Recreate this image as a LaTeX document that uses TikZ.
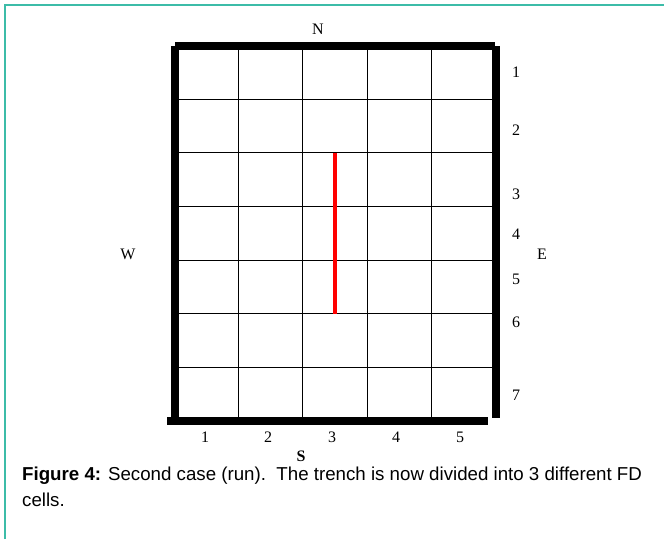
\documentclass[tikz,border=0pt]{standalone}
\usepackage{fontspec}
\setmainfont{Liberation Serif}
\newfontfamily\capfont{Liberation Sans}
\usetikzlibrary{positioning}
\definecolor{frameTeal}{HTML}{3CBCA8}
\definecolor{trenchRed}{HTML}{FF0000}
\tikzset{
  wall/.style={line width=8pt, line cap=butt},
  cellline/.style={line width=0.9pt},
  trench/.style={draw=trenchRed, line width=4pt},
  lbl/.style={font=\fontsize{16}{18}\selectfont, inner sep=0pt},
  figcap/.style={font=\capfont\fontsize{18.7}{26}\selectfont, align=left, anchor=base west, inner sep=0pt},
}
\begin{document}
\begin{tikzpicture}[x=1pt,y=-1pt]
\useasboundingbox (0,0) rectangle (664,539);
\draw[frameTeal, line width=1.5pt] (5,539) -- (5,5) -- (664,5);
\foreach \i in {1,...,4} \draw[cellline] (174.5+64.2*\i,45.5) -- (174.5+64.2*\i,421);
\foreach \j in {1,...,6} \draw[cellline] (174.5,45.5+53.64*\j) -- (495.5,45.5+53.64*\j);
\draw[wall] (175,45.5) -- (495,45.5);
\draw[wall] (174.5,46) -- (174.5,425);
\draw[wall] (495.5,46) -- (495.5,418);
\draw[wall] (167,421) -- (488,421);
\draw[trench] (335,152.8) -- (335,313.7);
\node[lbl] (north) at (318,29) {N};
\node[lbl] (west) at (128,254) {W};
\node[lbl] (east) at (542,254) {E};
\node[lbl] (south) at (301,456) {\textbf{S}};
\foreach \x/\n in {205/1,268/2,332/3,396/4,460/5}
  \node[lbl] (col\n) at (\x,437) {\n};
\foreach \y/\n in {72/1,130/2,194/3,234/4,279/5,322/6,395/7}
  \node[lbl] (row\n) at (516,\y) {\n};
\node[figcap] (caption) at (22,506) {\textbf{Figure 4:} Second case (run).\ \ The trench is now divided into 3 different FD\\cells.};
\end{tikzpicture}
\end{document}
